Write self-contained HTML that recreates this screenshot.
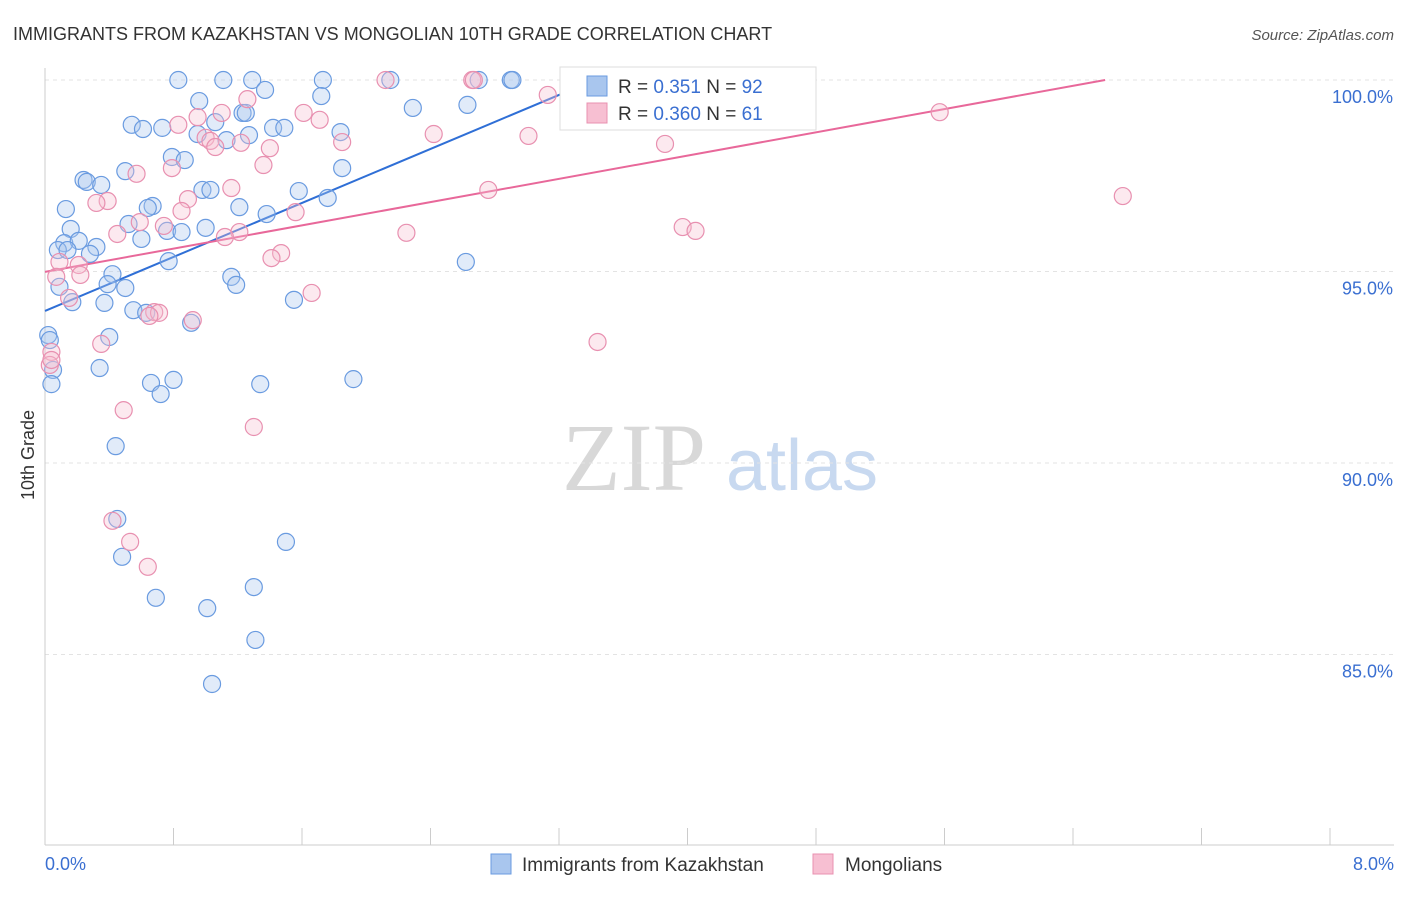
<!DOCTYPE html>
<html><head><meta charset="utf-8"><style>
body{margin:0;background:#fff;font-family:"Liberation Sans",sans-serif;}
</style></head><body>
<svg id="chart" width="1406" height="892" xmlns="http://www.w3.org/2000/svg" font-family="Liberation Sans, sans-serif">
<text x="13" y="40" font-size="18" fill="#333">IMMIGRANTS FROM KAZAKHSTAN VS MONGOLIAN 10TH GRADE CORRELATION CHART</text>
<text x="1394" y="40" font-size="15" fill="#555" text-anchor="end" font-style="italic">Source: ZipAtlas.com</text>
<g>
<text x="634" y="490" font-size="96" fill="#d8d8d8" font-family="Liberation Serif, serif" text-anchor="middle">ZIP</text>
<text x="802" y="490" font-size="72" fill="#c8d9f0" text-anchor="middle">atlas</text>
</g>
<g id="grid"></g>
<g id="axes"></g>
<g id="lines"></g>
<g id="pts"></g>
<text transform="translate(34,455) rotate(-90)" font-size="18" fill="#333" text-anchor="middle">10th Grade</text>
<g>
<rect x="560" y="67" width="256" height="63" fill="#fff" stroke="#ddd"/>
<rect x="587" y="76" width="20" height="20" fill="#a9c6ee" stroke="#6a9be0"/>
<rect x="587" y="103" width="20" height="20" fill="#f7bfd2" stroke="#e890b0"/>
<text x="618" y="93" font-size="19" fill="#333">R = <tspan fill="#3a6fd1">0.351</tspan>   N = <tspan fill="#3a6fd1">92</tspan></text>
<text x="618" y="120" font-size="19" fill="#333">R = <tspan fill="#3a6fd1">0.360</tspan>   N = <tspan fill="#3a6fd1"> 61</tspan></text>
</g>
<g>
<rect x="491" y="854" width="20" height="20" fill="#a9c6ee" stroke="#6a9be0"/>
<text x="522" y="871" font-size="19" fill="#333">Immigrants from Kazakhstan</text>
<rect x="813" y="854" width="20" height="20" fill="#f7bfd2" stroke="#e890b0"/>
<text x="845" y="871" font-size="19" fill="#333">Mongolians</text>
</g>
</svg>
<script>
const blueX=[0.83,1.11,1.29,1.73,2.15,2.70,2.90,2.91,3.28,1.37,1.72,0.96,2.29,2.63,1.23,1.25,1.06,0.54,0.61,0.73,0.95,1.42,1.49,1.84,1.13,1.27,0.79,0.87,1.85,0.50,0.24,0.26,0.35,0.98,1.03,1.58,1.76,0.13,0.67,0.64,1.21,1.38,0.52,0.76,0.85,1.00,0.16,0.60,0.12,0.21,0.32,0.08,0.14,0.28,0.77,2.62,0.42,1.16,0.39,0.09,0.50,1.19,0.17,0.37,1.55,0.55,0.63,0.91,0.40,0.02,0.03,0.34,0.05,0.04,0.66,0.80,0.72,1.34,1.92,0.44,0.45,1.50,0.48,0.69,1.01,1.30,1.31,1.04];
const blueY=[100,100,100,100,100,100,100,100,100,99.74,99.58,99.45,99.27,99.35,99.14,99.14,98.90,98.83,98.72,98.75,98.59,98.75,98.75,98.64,98.43,98.56,97.99,97.91,97.70,97.62,97.39,97.34,97.26,97.13,97.13,97.10,96.92,96.63,96.71,96.66,96.68,96.50,96.24,96.06,96.03,96.14,96.11,95.85,95.74,95.80,95.64,95.56,95.56,95.46,95.27,95.25,94.93,94.86,94.67,94.60,94.57,94.65,94.20,94.18,94.26,93.99,93.92,93.66,93.29,93.34,93.21,92.48,92.43,92.06,92.09,92.17,91.80,92.06,92.19,90.44,88.54,87.94,87.55,86.48,86.21,86.76,85.38,84.23];
const pinkX=[2.12,2.66,2.67,3.13,1.26,1.10,1.61,5.57,0.95,1.71,0.83,2.42,1.00,1.03,1.06,1.22,3.01,1.85,3.86,1.40,1.36,0.79,0.57,1.16,2.76,6.71,0.89,0.39,0.32,0.85,1.56,0.59,0.74,3.97,4.05,0.45,2.25,1.21,1.12,1.47,1.41,0.09,0.21,0.22,0.07,1.66,0.15,0.68,0.71,0.65,0.92,0.35,3.44,0.04,0.03,0.49,1.30,0.42,0.53,0.64,0.04];
const pinkY=[100,100,100,99.61,99.50,99.14,99.14,99.16,99.03,98.96,98.83,98.59,98.49,98.41,98.25,98.36,98.54,98.38,98.33,98.22,97.78,97.70,97.55,97.18,97.13,96.97,96.89,96.84,96.79,96.58,96.55,96.29,96.19,96.16,96.06,95.98,96.01,96.03,95.90,95.48,95.35,95.25,95.17,94.91,94.86,94.44,94.31,93.94,93.92,93.84,93.73,93.11,93.16,92.90,92.56,91.38,90.94,88.49,87.94,87.29,92.69];
const blueTrend=[0,93.97,3.45,100.05];
const pinkTrend=[0,94.99,6.60,100];
const yTicks=[100,95,90,85];
const yTickLabels=["100.0%","95.0%","90.0%","85.0%"];
const xTickCount=[0,0.8,1.6,2.4,3.2,4.0,4.8,5.6,6.4,7.2,8.0];
const xEndLabels=["0.0%","8.0%"];
const NS="http://www.w3.org/2000/svg";
const sx=v=>45+v*160.625;
const sy=v=>80+(100-v)*38.3;
function mk(tag,attrs,parent){const e=document.createElementNS(NS,tag);for(const k in attrs)e.setAttribute(k,attrs[k]);parent.appendChild(e);return e;}
const grid=document.getElementById('grid'),axes=document.getElementById('axes'),lines=document.getElementById('lines'),pts=document.getElementById('pts');
yTicks.forEach((t,i)=>{
 const l=mk('line',{x1:45,x2:1394,y1:sy(t),y2:sy(t),stroke:'#e3e3e3','stroke-dasharray':'4,4'},grid);
 
 
 const tx=mk('text',{x:1393,y:sy(t)+23,'font-size':18,fill:'#3a6fd1','text-anchor':'end'},axes);
 tx.textContent=yTickLabels[i];
 
 
});
const ax=mk('line',{x1:45,x2:45,y1:68,y2:845,stroke:'#ccc'},axes);


const bx=mk('line',{x1:45,x2:1394,y1:845,y2:845,stroke:'#ccc'},axes);


xTickCount.forEach(t=>{
 const l=mk('line',{x1:sx(t),x2:sx(t),y1:828,y2:845,stroke:'#ccc'},axes);
 
 
});
const xl0=mk('text',{x:45,y:870,'font-size':18,fill:'#3a6fd1'},axes);xl0.textContent=xEndLabels[0];


const xl1=mk('text',{x:1394,y:870,'font-size':18,fill:'#3a6fd1','text-anchor':'end'},axes);xl1.textContent=xEndLabels[1];


function drawPts(X,Y,fill,stroke,name){for(let i=0;i<X.length;i++){const c=mk('circle',{cx:sx(X[i]),cy:sy(Y[i]),r:8.5,fill:fill,'fill-opacity':0.35,stroke:stroke,'stroke-width':1.2},pts);
 
 }}
drawPts(blueX,blueY,'#a9c6ee','#6a9be0','kazakhstan-point');
drawPts(pinkX,pinkY,'#f7bfd2','#e890b0','mongolian-point');
const bl=mk('line',{x1:sx(blueTrend[0]),y1:sy(blueTrend[1]),x2:sx(blueTrend[2]),y2:sy(blueTrend[3]),stroke:'#2f6fd6','stroke-width':2},lines);


const pl=mk('line',{x1:sx(pinkTrend[0]),y1:sy(pinkTrend[1]),x2:sx(pinkTrend[2]),y2:sy(pinkTrend[3]),stroke:'#e8689a','stroke-width':2},lines);


</script>
</body></html>
